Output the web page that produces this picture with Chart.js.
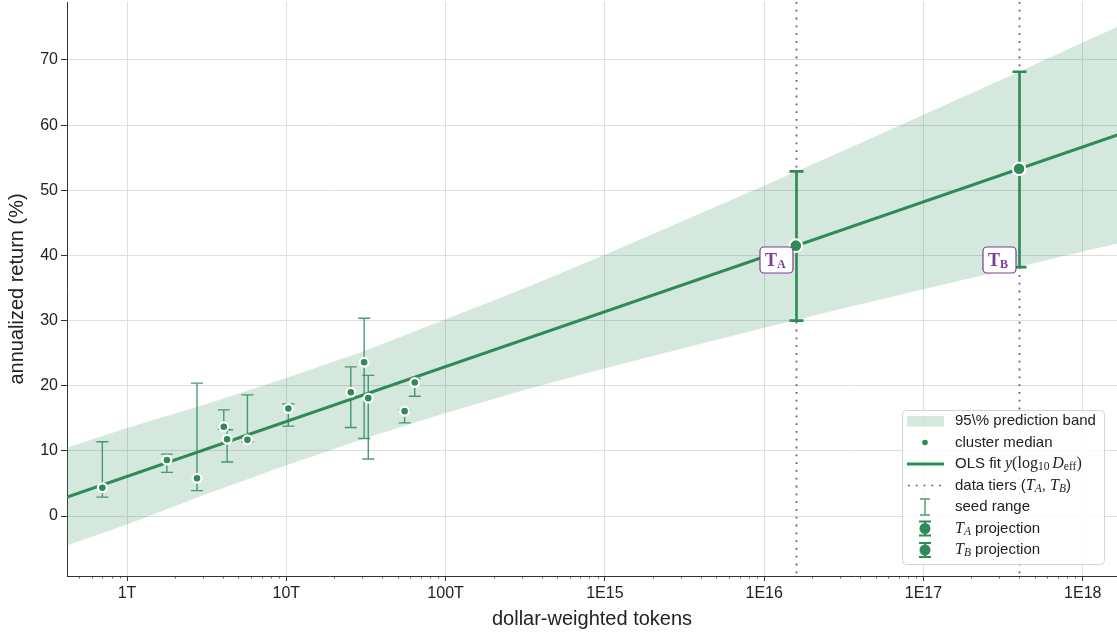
<!DOCTYPE html>
<html>
<head>
<meta charset="utf-8">
<script src="https://cdn.jsdelivr.net/npm/chart.js@4"></script>
<style>
  html, body { margin: 0; padding: 0; background: #fff; }
  canvas { display: block; }
</style>
</head>
<body>
<canvas id="chart" width="1117" height="637"></canvas>
<script>
document.addEventListener('DOMContentLoaded', () => {
    "use strict";

    // axis limits and ticks
    var xMin = 4.2e11, xMax = 1.64e18;
    var yMin = -9.2, yMax = 78.9;
    var xTickValues = [1e12, 1e13, 1e14, 1e15, 1e16, 1e17, 1e18];
    var xTickLabels = ['1T', '10T', '100T', '1E15', '1E16', '1E17', '1E18'];
    var yTicks = [0, 10, 20, 30, 40, 50, 60, 70];

    // cluster medians with seed range
    var clusterX = [7.0e11, 1.78e12, 2.75e12, 4.05e12, 4.25e12, 5.7e12, 1.03e13, 2.54e13, 3.08e13, 3.27e13, 5.53e13, 6.4e13];
    var clusterY = [4.35, 8.6, 5.8, 13.7, 11.8, 11.7, 16.5, 19.0, 23.6, 18.1, 16.1, 20.5];
    var clusterLow = [2.9, 6.7, 3.9, 13.3, 8.3, 11.4, 13.8, 13.6, 11.9, 8.75, 14.3, 18.4];
    var clusterHigh = [11.4, 9.5, 20.4, 16.3, 13.25, 18.6, 17.2, 22.9, 30.35, 21.6, 16.3, 21.1];

    // OLS fit line
    var fitX = [4e11, 1.8e18];
    var fitY = [2.72, 58.8];

    // 95% prediction band
    var bandX = [4e11, 1e12, 3.16e12, 1e13, 3.16e13, 1e14, 3.16e14, 1e15, 3.16e15, 1e16, 3.16e16, 1e17, 3.16e17, 1e18, 1.8e18];
    var bandUpper = [10.3, 13.5, 17.2, 21.2, 25.4, 30.2, 35.0, 40.1, 45.4, 50.7, 56.1, 61.6, 67.1, 72.7, 75.5];
    var bandLower = [-4.7, -1.3, 3.4, 7.8, 12.0, 15.8, 19.4, 22.7, 25.8, 28.9, 31.9, 34.8, 37.7, 40.6, 42.0];

    // projections at the data tiers
    var tierNames = ['A', 'B'];
    var projX = [1.58e16, 3.98e17];
    var projY = [41.5, 53.3];
    var projLow = [30.0, 38.2];
    var projHigh = [52.9, 68.2];
    var tierLabelY = 39.3;

    var GREEN = '#2e8b57';
    var BAND = 'rgba(46,139,87,0.2)';
    var PURPLE = '#7d3c98';
    var SANS = '"Liberation Sans", Arial, Helvetica, sans-serif';
    var SERIF = '"Liberation Serif", "Times New Roman", serif';

    function pts(xs, ys) {
        return xs.map(function(x, i) { return { x: x, y: ys[i] }; });
    }

    function logTicks(min, max) {
        var out = [];
        for (var e = Math.floor(Math.log10(min)); e <= Math.ceil(Math.log10(max)); e++) {
            for (var m = 1; m <= 9; m++) {
                var v = m * Math.pow(10, e);
                if (v >= min && v <= max) out.push({ value: v, major: m === 1 });
            }
        }
        return out;
    }

    function labelFor(v) {
        for (var i = 0; i < xTickValues.length; i++) {
            if (Math.abs(Math.log10(v) - Math.log10(xTickValues[i])) < 1e-6) return xTickLabels[i];
        }
        return '';
    }

    function noPadding(scale) {
        scale.paddingTop = 0; scale.paddingBottom = 0;
        scale.paddingLeft = 0; scale.paddingRight = 0;
    }

    // x pixel shared by tier line and projection bar
    function tierPx(xs, v) {
        return Math.round(xs.getPixelForValue(v)) + 0.5;
    }

    // draw runs of text with mixed fonts
    function drawRuns(ctx, x, y, runs) {
        runs.forEach(function(r) {
            ctx.font = r.font;
            ctx.fillText(r.text, x, y + (r.dy || 0));
            x += ctx.measureText(r.text).width;
        });
        return x;
    }

    function roundRect(ctx, x, y, w, h, r) {
        ctx.beginPath();
        ctx.moveTo(x + r, y);
        ctx.lineTo(x + w - r, y);
        ctx.arcTo(x + w, y, x + w, y + r, r);
        ctx.lineTo(x + w, y + h - r);
        ctx.arcTo(x + w, y + h, x + w - r, y + h, r);
        ctx.lineTo(x + r, y + h);
        ctx.arcTo(x, y + h, x, y + h - r, r);
        ctx.lineTo(x, y + r);
        ctx.arcTo(x, y, x + r, y, r);
        ctx.closePath();
    }

    function errorBar(ctx, px, pLow, pHigh, half) {
        ctx.beginPath();
        ctx.moveTo(px, pLow); ctx.lineTo(px, pHigh);
        ctx.moveTo(px - half, pLow); ctx.lineTo(px + half, pLow);
        ctx.moveTo(px - half, pHigh); ctx.lineTo(px + half, pHigh);
        ctx.stroke();
    }

    // dotted tier lines behind everything
    var tierLines = {
        id: 'tierLines',
        beforeDatasetsDraw: function(chart) {
            var ctx = chart.ctx, a = chart.chartArea, xs = chart.scales.x;
            ctx.save();
            ctx.strokeStyle = PURPLE;
            ctx.lineWidth = 1.7;
            ctx.setLineDash([1.8, 6]);
            projX.forEach(function(v) {
                var px = tierPx(xs, v);
                ctx.beginPath();
                ctx.moveTo(px, a.top);
                ctx.lineTo(px, a.bottom);
                ctx.stroke();
            });
            ctx.restore();
        }
    };

    // error bars under their points
    var errorBars = {
        id: 'errorBars',
        beforeDatasetDraw: function(chart, args) {
            var ds = chart.data.datasets[args.index];
            var ctx = chart.ctx, xs = chart.scales.x, ys = chart.scales.y;
            ctx.save();
            if (ds.label === 'cluster median') {
                ctx.strokeStyle = 'rgba(46,139,87,0.85)';
                ctx.lineWidth = 1.4;
                clusterX.forEach(function(v, i) {
                    errorBar(ctx, xs.getPixelForValue(v), ys.getPixelForValue(clusterLow[i]), ys.getPixelForValue(clusterHigh[i]), 6);
                });
            } else if (ds.label === 'projection') {
                ctx.strokeStyle = GREEN;
                ctx.lineWidth = 2.6;
                projX.forEach(function(v, i) {
                    errorBar(ctx, tierPx(xs, v), ys.getPixelForValue(projLow[i]), ys.getPixelForValue(projHigh[i]), 7);
                });
            }
            ctx.restore();
        }
    };

    // T_A / T_B boxes, minor ticks, legend
    var overlay = {
        id: 'overlay',
        afterDraw: function(chart) {
            var ctx = chart.ctx, a = chart.chartArea, xs = chart.scales.x, ys = chart.scales.y;
            ctx.save();

            // minor ticks on the log axis
            ctx.strokeStyle = '#333';
            ctx.lineWidth = 0.8;
            logTicks(xMin, xMax).forEach(function(t) {
                if (t.major) return;
                var px = Math.round(xs.getPixelForValue(t.value)) + 0.5;
                ctx.beginPath();
                ctx.moveTo(px, a.bottom);
                ctx.lineTo(px, a.bottom + 2.5);
                ctx.stroke();
            });

            // tier label boxes
            projX.forEach(function(v, i) {
                var cx = tierPx(xs, v) - 20;
                var cy = ys.getPixelForValue(tierLabelY);
                var w = 33, h = 26;
                roundRect(ctx, cx - w / 2, cy - h / 2, w, h, 4);
                ctx.fillStyle = '#fff';
                ctx.fill();
                ctx.strokeStyle = PURPLE;
                ctx.lineWidth = 1.2;
                ctx.stroke();
                ctx.fillStyle = PURPLE;
                ctx.textBaseline = 'alphabetic';
                ctx.textAlign = 'left';
                drawRuns(ctx, cx - 11.5, cy + 5.5, [
                    { text: 'T', font: 'bold 18px ' + SERIF },
                    { text: tierNames[i], font: 'bold 12px ' + SERIF, dy: 2.5 }
                ]);
            });

            // legend
            var lx = a.right - 215, ly = a.bottom - 166, lw = 202, lh = 154;
            roundRect(ctx, lx + 0.5, ly + 0.5, lw, lh, 4);
            ctx.fillStyle = 'rgba(255,255,255,0.85)';
            ctx.fill();
            ctx.strokeStyle = '#d4d4d4';
            ctx.lineWidth = 1;
            ctx.stroke();

            var ix0 = lx + 5, ix1 = lx + 42, icx = lx + 23, tx = lx + 53;
            var rows = [ly + 11, ly + 32.5, ly + 54, ly + 75.5, ly + 97, ly + 118.5, ly + 140];

            ctx.fillStyle = BAND;
            ctx.fillRect(ix0, rows[0] - 5, ix1 - ix0, 10.5);

            ctx.fillStyle = GREEN;
            ctx.beginPath(); ctx.arc(icx, rows[1], 2.8, 0, Math.PI * 2); ctx.fill();

            ctx.strokeStyle = GREEN; ctx.lineWidth = 3;
            ctx.beginPath(); ctx.moveTo(ix0, rows[2]); ctx.lineTo(ix1, rows[2]); ctx.stroke();

            ctx.strokeStyle = PURPLE; ctx.lineWidth = 1.7; ctx.setLineDash([1.8, 6]);
            ctx.beginPath(); ctx.moveTo(ix0 + 1, rows[3]); ctx.lineTo(ix1, rows[3]); ctx.stroke();
            ctx.setLineDash([]);

            ctx.strokeStyle = 'rgba(46,139,87,0.85)'; ctx.lineWidth = 1.4;
            errorBar(ctx, icx, rows[4] + 8, rows[4] - 8, 5);

            [rows[5], rows[6]].forEach(function(ry) {
                ctx.strokeStyle = GREEN; ctx.lineWidth = 2;
                errorBar(ctx, icx, ry + 7, ry - 7, 6);
                ctx.fillStyle = GREEN;
                ctx.beginPath(); ctx.arc(icx, ry, 5.5, 0, Math.PI * 2); ctx.fill();
            });

            var sans = '15px ' + SANS;
            var it = 'italic 16px ' + SERIF, rm = '16px ' + SERIF;
            var itS = 'italic 11.5px ' + SERIF, rmS = '11.5px ' + SERIF;
            ctx.fillStyle = '#222';
            ctx.textBaseline = 'middle';
            ctx.textAlign = 'left';
            drawRuns(ctx, tx, rows[0], [{ text: '95\\% prediction band', font: sans }]);
            drawRuns(ctx, tx, rows[1], [{ text: 'cluster median', font: sans }]);
            drawRuns(ctx, tx, rows[2], [
                { text: 'OLS fit ', font: sans },
                { text: 'y', font: it }, { text: '(log', font: rm },
                { text: '10', font: rmS, dy: 3 }, { text: ' ', font: rmS },
                { text: 'D', font: it }, { text: 'eff', font: rmS, dy: 3 },
                { text: ')', font: rm }
            ]);
            drawRuns(ctx, tx, rows[3], [
                { text: 'data tiers (', font: sans },
                { text: 'T', font: it }, { text: 'A', font: itS, dy: 3 },
                { text: ', ', font: sans },
                { text: 'T', font: it }, { text: 'B', font: itS, dy: 3 },
                { text: ')', font: sans }
            ]);
            drawRuns(ctx, tx, rows[4], [{ text: 'seed range', font: sans }]);
            drawRuns(ctx, tx, rows[5], [
                { text: 'T', font: it }, { text: 'A', font: itS, dy: 3 },
                { text: ' projection', font: sans }
            ]);
            drawRuns(ctx, tx, rows[6], [
                { text: 'T', font: it }, { text: 'B', font: itS, dy: 3 },
                { text: ' projection', font: sans }
            ]);
            ctx.restore();
        }
    };

    var ctxChart = document.getElementById('chart').getContext('2d');
    new Chart(ctxChart, {
        type: 'scatter',
        data: {
            datasets: [
                {
                    label: 'projection',
                    data: pts(projX, projY),
                    backgroundColor: GREEN,
                    borderColor: '#fff',
                    borderWidth: 2,
                    pointRadius: 6.3,
                    order: 0
                },
                {
                    label: 'cluster median',
                    data: pts(clusterX, clusterY),
                    backgroundColor: GREEN,
                    borderColor: '#fff',
                    borderWidth: 2.2,
                    pointRadius: 4.4,
                    order: 1
                },
                {
                    label: 'OLS fit',
                    type: 'line',
                    data: pts(fitX, fitY),
                    borderColor: GREEN,
                    borderWidth: 3,
                    pointRadius: 0,
                    fill: false,
                    order: 2
                },
                {
                    label: 'band upper',
                    type: 'line',
                    data: pts(bandX, bandUpper),
                    borderWidth: 0,
                    borderColor: 'rgba(0,0,0,0)',
                    backgroundColor: BAND,
                    pointRadius: 0,
                    fill: '+1',
                    order: 3
                },
                {
                    label: 'band lower',
                    type: 'line',
                    data: pts(bandX, bandLower),
                    borderWidth: 0,
                    borderColor: 'rgba(0,0,0,0)',
                    pointRadius: 0,
                    fill: false,
                    order: 4
                }
            ]
        },
        options: {
            responsive: false,
            animation: false,
            events: [],
            layout: { autoPadding: false, padding: { top: 2, right: 0, bottom: 0, left: 0 } },
            plugins: {
                legend: { display: false },
                tooltip: { enabled: false }
            },
            scales: {
                x: {
                    type: 'logarithmic',
                    min: xMin,
                    max: xMax,
                    afterBuildTicks: function(scale) { scale.ticks = logTicks(xMin, xMax); },
                    afterFit: function(scale) { scale.height = 61; noPadding(scale); },
                    ticks: {
                        autoSkip: false,
                        maxRotation: 0,
                        padding: 3,
                        color: '#222',
                        font: { family: SANS, size: 16 },
                        callback: function(v) { return labelFor(v); }
                    },
                    grid: {
                        color: function(c) { return c.tick && c.tick.major ? '#dedede' : 'rgba(0,0,0,0)'; },
                        tickColor: function(c) { return c.tick && c.tick.major ? '#333' : 'rgba(0,0,0,0)'; },
                        tickLength: 5,
                        lineWidth: 1
                    },
                    border: { color: '#333', width: 1 },
                    title: {
                        display: true,
                        text: 'dollar-weighted tokens',
                        color: '#222',
                        font: { family: SANS, size: 20 },
                        padding: { top: 0, bottom: 6 }
                    }
                },
                y: {
                    type: 'linear',
                    min: yMin,
                    max: yMax,
                    afterBuildTicks: function(scale) { scale.ticks = yTicks.map(function(v) { return { value: v }; }); },
                    afterFit: function(scale) { scale.width = 67; noPadding(scale); },
                    ticks: {
                        padding: 3,
                        color: '#222',
                        font: { family: SANS, size: 16 }
                    },
                    grid: {
                        color: '#dedede',
                        tickColor: '#333',
                        tickLength: 6,
                        lineWidth: 1
                    },
                    border: { color: '#333', width: 1 },
                    title: {
                        display: true,
                        text: 'annualized return (%)',
                        color: '#222',
                        font: { family: SANS, size: 20 },
                        padding: { top: 5.5, bottom: 0 }
                    }
                }
            }
        },
        plugins: [tierLines, errorBars, overlay]
    });
});
</script>
</body>
</html>
